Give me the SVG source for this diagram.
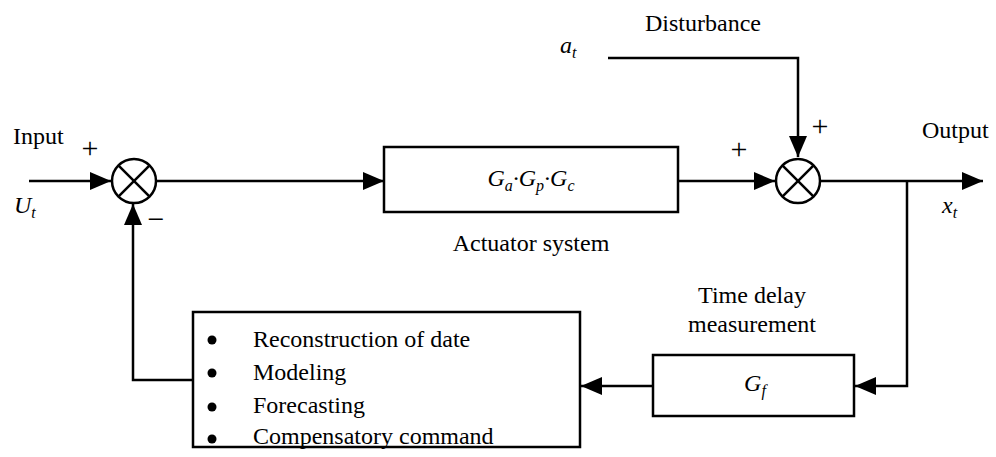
<svg xmlns="http://www.w3.org/2000/svg" width="996" height="457" viewBox="0 0 996 457">
<defs>
<style>
.ln{fill:none;stroke:#000;stroke-width:2.5}
.bx{fill:#fff;stroke:#000;stroke-width:2.5}
text{font-family:'Liberation Serif','DejaVu Serif',serif;font-size:24px;fill:#000}
.m{font-style:italic}
.s{font-size:16px}
.sg{font-size:30px}
</style>
<marker id="ah" markerUnits="userSpaceOnUse" markerWidth="22" markerHeight="18" refX="21" refY="9" orient="auto">
<path d="M0,0 L21,9 L0,18 Z" fill="#000"/>
</marker>
</defs>
<rect width="996" height="457" fill="#fff"/>
<g id="connectors">
<line class="ln" x1="29" y1="181" x2="111" y2="181" marker-end="url(#ah)"/>
<line class="ln" x1="157" y1="181" x2="384" y2="181" marker-end="url(#ah)"/>
<line class="ln" x1="678" y1="181" x2="775" y2="181" marker-end="url(#ah)"/>
<polyline class="ln" points="608,58 798,58 798,157" marker-end="url(#ah)"/>
<line class="ln" x1="821" y1="181" x2="983" y2="181" marker-end="url(#ah)"/>
<polyline class="ln" points="907,181 907,386 855,386" marker-end="url(#ah)"/>
<line class="ln" x1="653" y1="386" x2="581" y2="386" marker-end="url(#ah)"/>
<polyline class="ln" points="193,380 133,380 133,204" marker-end="url(#ah)"/>
</g>
<g id="sum1">
<circle class="bx" cx="134" cy="181" r="22"/>
<line class="ln" x1="118.4" y1="165.4" x2="149.6" y2="196.6"/>
<line class="ln" x1="149.6" y1="165.4" x2="118.4" y2="196.6"/>
<text class="sg" x="90" y="158" text-anchor="middle">+</text>
<text class="sg" x="156" y="229" text-anchor="middle">−</text>
</g>
<g id="input">
<text x="13" y="144">Input</text>
<text class="m" x="14" y="213">U<tspan class="s" dy="5">t</tspan></text>
</g>
<g id="actuator">
<rect class="bx" x="384" y="147" width="294" height="65"/>
<text class="m" x="531" y="186" text-anchor="middle">G<tspan class="s" dy="5">a</tspan><tspan dy="-5">·G</tspan><tspan class="s" dy="5">p</tspan><tspan dy="-5">·G</tspan><tspan class="s" dy="5">c</tspan></text>
<text x="531" y="251" text-anchor="middle">Actuator system</text>
</g>
<g id="disturbance">
<text x="703" y="31" text-anchor="middle">Disturbance</text>
<text class="m" x="560" y="53">a<tspan class="s" dy="5">t</tspan></text>
</g>
<g id="sum2">
<circle class="bx" cx="798" cy="181" r="22"/>
<line class="ln" x1="782.4" y1="165.4" x2="813.6" y2="196.6"/>
<line class="ln" x1="813.6" y1="165.4" x2="782.4" y2="196.6"/>
<text class="sg" x="739" y="159" text-anchor="middle">+</text>
<text class="sg" x="820" y="136" text-anchor="middle">+</text>
</g>
<g id="output">
<text x="922" y="138">Output</text>
<text class="m" x="942" y="213">x<tspan class="s" dy="5">t</tspan></text>
</g>
<g id="measurement">
<rect class="bx" x="653" y="355" width="201" height="61"/>
<text class="m" x="755" y="391" text-anchor="middle">G<tspan class="s" dy="5">f</tspan></text>
<text x="752" y="303" text-anchor="middle">Time delay</text>
<text x="752" y="332" text-anchor="middle">measurement</text>
</g>
<g id="processing">
<rect class="bx" x="193" y="312" width="387" height="135"/>
<circle cx="212" cy="340" r="4.5"/>
<circle cx="212" cy="373" r="4.5"/>
<circle cx="212" cy="407" r="4.5"/>
<circle cx="212" cy="439" r="4.5"/>
<text x="253" y="347">Reconstruction of date</text>
<text x="253" y="380">Modeling</text>
<text x="253" y="413">Forecasting</text>
<text x="253" y="444">Compensatory command</text>
</g>
</svg>
